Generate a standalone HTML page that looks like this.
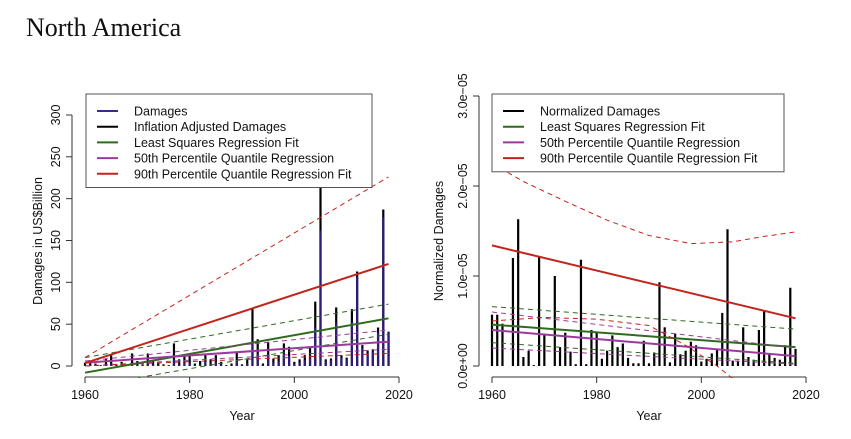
<!DOCTYPE html>
<html><head><meta charset="utf-8"><style>
body{margin:0;background:#fff;}
svg{display:block;font-family:"Liberation Sans",sans-serif;}
</style></head><body>
<svg id="c" width="851" height="439" viewBox="0 0 851 439">
<text x="26" y="36" font-family="'Liberation Serif',serif" font-size="26" fill="#111">North America</text>
</svg>
<script>
const years=[];for(let y=1960;y<=2018;y++)years.push(y);
const adjusted=[4,4,3,1,9,13,2,5,2,15,6,2,15,6,4,2,1,27,8,13,13,3,6,14,8,13,5,1,3,17,2,8,68,32,3,29,9,13,27,23,5,8,13,23,77,218,8,9,70,13,10,68,113,25,18,20,46,187,41];
const damages=[1,1,1,0,2,3,1,1,1,3,1,1,4,2,1,1,0,8,2,4,4,1,2,5,3,5,2,0,1,7,1,3,30,15,1,14,4,6,14,12,3,4,7,13,46,162,6,7,52,10,8,52,107,21,15,17,40,178,40];
const normalized=[0.57,0.57,0.47,0,1.2,1.63,0.1,0.17,0.01,1.21,0.36,0,1.0,0.21,0.37,0.16,0.02,1.18,0.02,0.4,0.38,0.08,0.17,0.34,0.21,0.25,0.09,0.03,0.03,0.28,0.03,0.15,0.93,0.43,0.04,0.36,0.13,0.17,0.27,0.23,0.05,0.08,0.14,0.18,0.59,1.52,0.06,0.06,0.43,0.1,0.07,0.4,0.62,0.14,0.09,0.07,0.23,0.87,0.19];
const fitYears=[1960,2018];
const lsLeft=[-8,57],lsLeftUp=[10,74],lsLeftLo=[-25,38];
const q50Left=[4,29],q50LeftUp=[6,43],q50LeftLo=[0,20];
const q90Left=[3.5,122],q90LeftUp=[10,226],q90LeftLo=[0,15];
const lsRight=[0.46,0.21],lsRightUp=[0.66,0.41],lsRightLo=[0.26,0.03];
const q50Right=[0.4,0.11],q50RightUp=[0.6,0.2],q50RightLo=[0.2,0.02];
const q90Right=[1.34,0.53];
const q90UpYears=[1960,1966,1974,1982,1990,1998,2006,2012,2018];
const q90UpVals=[2.25,2.05,1.83,1.62,1.45,1.36,1.38,1.44,1.49];
const q90LoYears=[1960,1970,1980,1990,1997,2003,2009,2012];
const q90LoVals=[0.5,0.54,0.52,0.45,0.23,0.0,-0.28,-0.4];
const leftTicks=[0,50,100,150,200,250,300];
const rightTicks=[0,1,2,3];const rightTickLabels=["0.0e+00","1.0e\u221205","2.0e\u221205","3.0e\u221205"];
const xTicks=[1960,1980,2000,2020];

const svg=document.getElementById('c');const NS='http://www.w3.org/2000/svg';
function mk(t,a,p){const e=document.createElementNS(NS,t);for(const k in a)e.setAttribute(k,a[k]);(p||svg).appendChild(e);return e;}
const C={purple:'#2e1a78',green:'#2f6a1f',mag:'#9b3a9e',red:'#c4231c'};
function xs(ox){return y=>ox+(y-1960)*5.2333;}
const yL=v=>366-v*0.8367, yR=v=>366-v*90;
function panel(ox,ys,name){
  const x=xs(ox);const g=mk('g',{'clip-path':'url(#clip'+name+')'});
  
  return {x,g};
}
const defs=mk('defs',{});
const c1=mk('clipPath',{id:'clipleft'},defs);mk('rect',{x:72,y:95,width:340,height:283},c1);
const c2=mk('clipPath',{id:'clipright'},defs);mk('rect',{x:479,y:95,width:340,height:283},c2);
function line(g,x,ys,xsArr,vals,col,dash,w,name){
  const pts=xsArr.map((yy,i)=>x(yy).toFixed(1)+','+ys(vals[i]).toFixed(1)).join(' ');
  const e=mk('polyline',{points:pts,fill:'none',stroke:col,'stroke-width':w||2,'stroke-dasharray':dash?'5,4':'none'},g);
  
  
}
function axes(ox,axX,ys,ticks,labels,ytitle,tx,side){
  const x=xs(ox);
  mk('line',{x1:axX,y1:ys(ticks[0]),x2:axX,y2:ys(ticks[ticks.length-1]),stroke:'#333'});
  ticks.forEach((t,i)=>{mk('line',{x1:axX-6,y1:ys(t),x2:axX,y2:ys(t),stroke:'#333'});
    const e=mk('text',{x:axX-12,y:ys(t),'font-size':12.5,'text-anchor':'middle',transform:`rotate(-90 ${axX-12} ${ys(t)})`,fill:'#111'});e.textContent=labels[i];
    
    });
  mk('line',{x1:x(1960),y1:377,x2:x(2020),y2:377,stroke:'#333'});
  xTicks.forEach(t=>{mk('line',{x1:x(t),y1:377,x2:x(t),y2:383,stroke:'#333'});
    const e=mk('text',{x:x(t),y:399,'font-size':12.5,'text-anchor':'middle',fill:'#111'});e.textContent=t;
    
    });
  const xt=mk('text',{x:x(1990),y:420,'font-size':12.5,'text-anchor':'middle',fill:'#111'});xt.textContent='Year';
  
  
  const yt=mk('text',{x:tx,y:241,'font-size':12.5,'text-anchor':'middle',transform:`rotate(-90 ${tx} 241)`,fill:'#111'});yt.textContent=ytitle;
  
  
}
// left
axes(85,72,yL,leftTicks,leftTicks.map(String),'Damages in US$Billion',42,'left');
let P=panel(85,yL,'left');
years.forEach((yy,i)=>{const b=mk('line',{x1:P.x(yy),x2:P.x(yy),y1:yL(0),y2:yL(adjusted[i]),stroke:'#000','stroke-width':2.2},P.g);
  
  const d=mk('line',{x1:P.x(yy),x2:P.x(yy),y1:yL(0),y2:yL(damages[i]),stroke:C.purple,'stroke-width':2.2},P.g);
  });
line(P.g,P.x,yL,fitYears,lsLeft,C.green,0,2,'ls-fit-line');
line(P.g,P.x,yL,fitYears,lsLeftUp,C.green,1,1,'ls-upper-band');
line(P.g,P.x,yL,fitYears,lsLeftLo,C.green,1,1,'ls-lower-band');
line(P.g,P.x,yL,fitYears,q50Left,C.mag,0,2,'q50-fit-line');
line(P.g,P.x,yL,fitYears,q50LeftUp,C.mag,1,1,'q50-upper-band');
line(P.g,P.x,yL,fitYears,q50LeftLo,C.mag,1,1,'q50-lower-band');
line(P.g,P.x,yL,fitYears,q90Left,C.red,0,2,'q90-fit-line');
line(P.g,P.x,yL,fitYears,q90LeftUp,C.red,1,1,'q90-upper-band');
line(P.g,P.x,yL,fitYears,q90LeftLo,C.red,1,1,'q90-lower-band');
// right
axes(492,479,yR,rightTicks,rightTickLabels,'Normalized Damages',443,'right');
P=panel(492,yR,'right');
years.forEach((yy,i)=>{const b=mk('line',{x1:P.x(yy),x2:P.x(yy),y1:yR(0),y2:yR(normalized[i]),stroke:'#000','stroke-width':2.2},P.g);
  });
line(P.g,P.x,yR,fitYears,lsRight,C.green,0,2,'ls-fit-line');
line(P.g,P.x,yR,fitYears,lsRightUp,C.green,1,1,'ls-upper-band');
line(P.g,P.x,yR,fitYears,lsRightLo,C.green,1,1,'ls-lower-band');
line(P.g,P.x,yR,fitYears,q50Right,C.mag,0,2,'q50-fit-line');
line(P.g,P.x,yR,fitYears,q50RightUp,C.mag,1,1,'q50-upper-band');
line(P.g,P.x,yR,fitYears,q50RightLo,C.mag,1,1,'q50-lower-band');
line(P.g,P.x,yR,fitYears,q90Right,C.red,0,2,'q90-fit-line');
line(P.g,P.x,yR,q90UpYears,q90UpVals,C.red,1,1,'q90-upper-band');
line(P.g,P.x,yR,q90LoYears,q90LoVals,C.red,1,1,'q90-lower-band');
// legends
function legend(x0,w,items,name){
  const g=mk('g',{});
  mk('rect',{x:x0,y:94,width:w,height:items.length*15.7+15,fill:'#fff',stroke:'#555'},g);
  items.forEach((it,i)=>{const y=111+i*15.7;
    mk('line',{x1:x0+11,x2:x0+32,y1:y,y2:y,stroke:it[1],'stroke-width':2},g);
    const t=mk('text',{x:x0+48,y:y+4.5,'font-size':12.5,fill:'#111'},g);t.textContent=it[0];
    });
}
legend(86,286,[['Damages','#3b2a90'],['Inflation Adjusted Damages','#000'],['Least Squares Regression Fit',C.green],['50th Percentile Quantile Regression',C.mag],['90th Percentile Quantile Regression Fit',C.red]],'left-legend');
legend(492,292,[['Normalized Damages','#000'],['Least Squares Regression Fit',C.green],['50th Percentile Quantile Regression',C.mag],['90th Percentile Quantile Regression Fit',C.red]],'right-legend');
</script>
</body></html>
